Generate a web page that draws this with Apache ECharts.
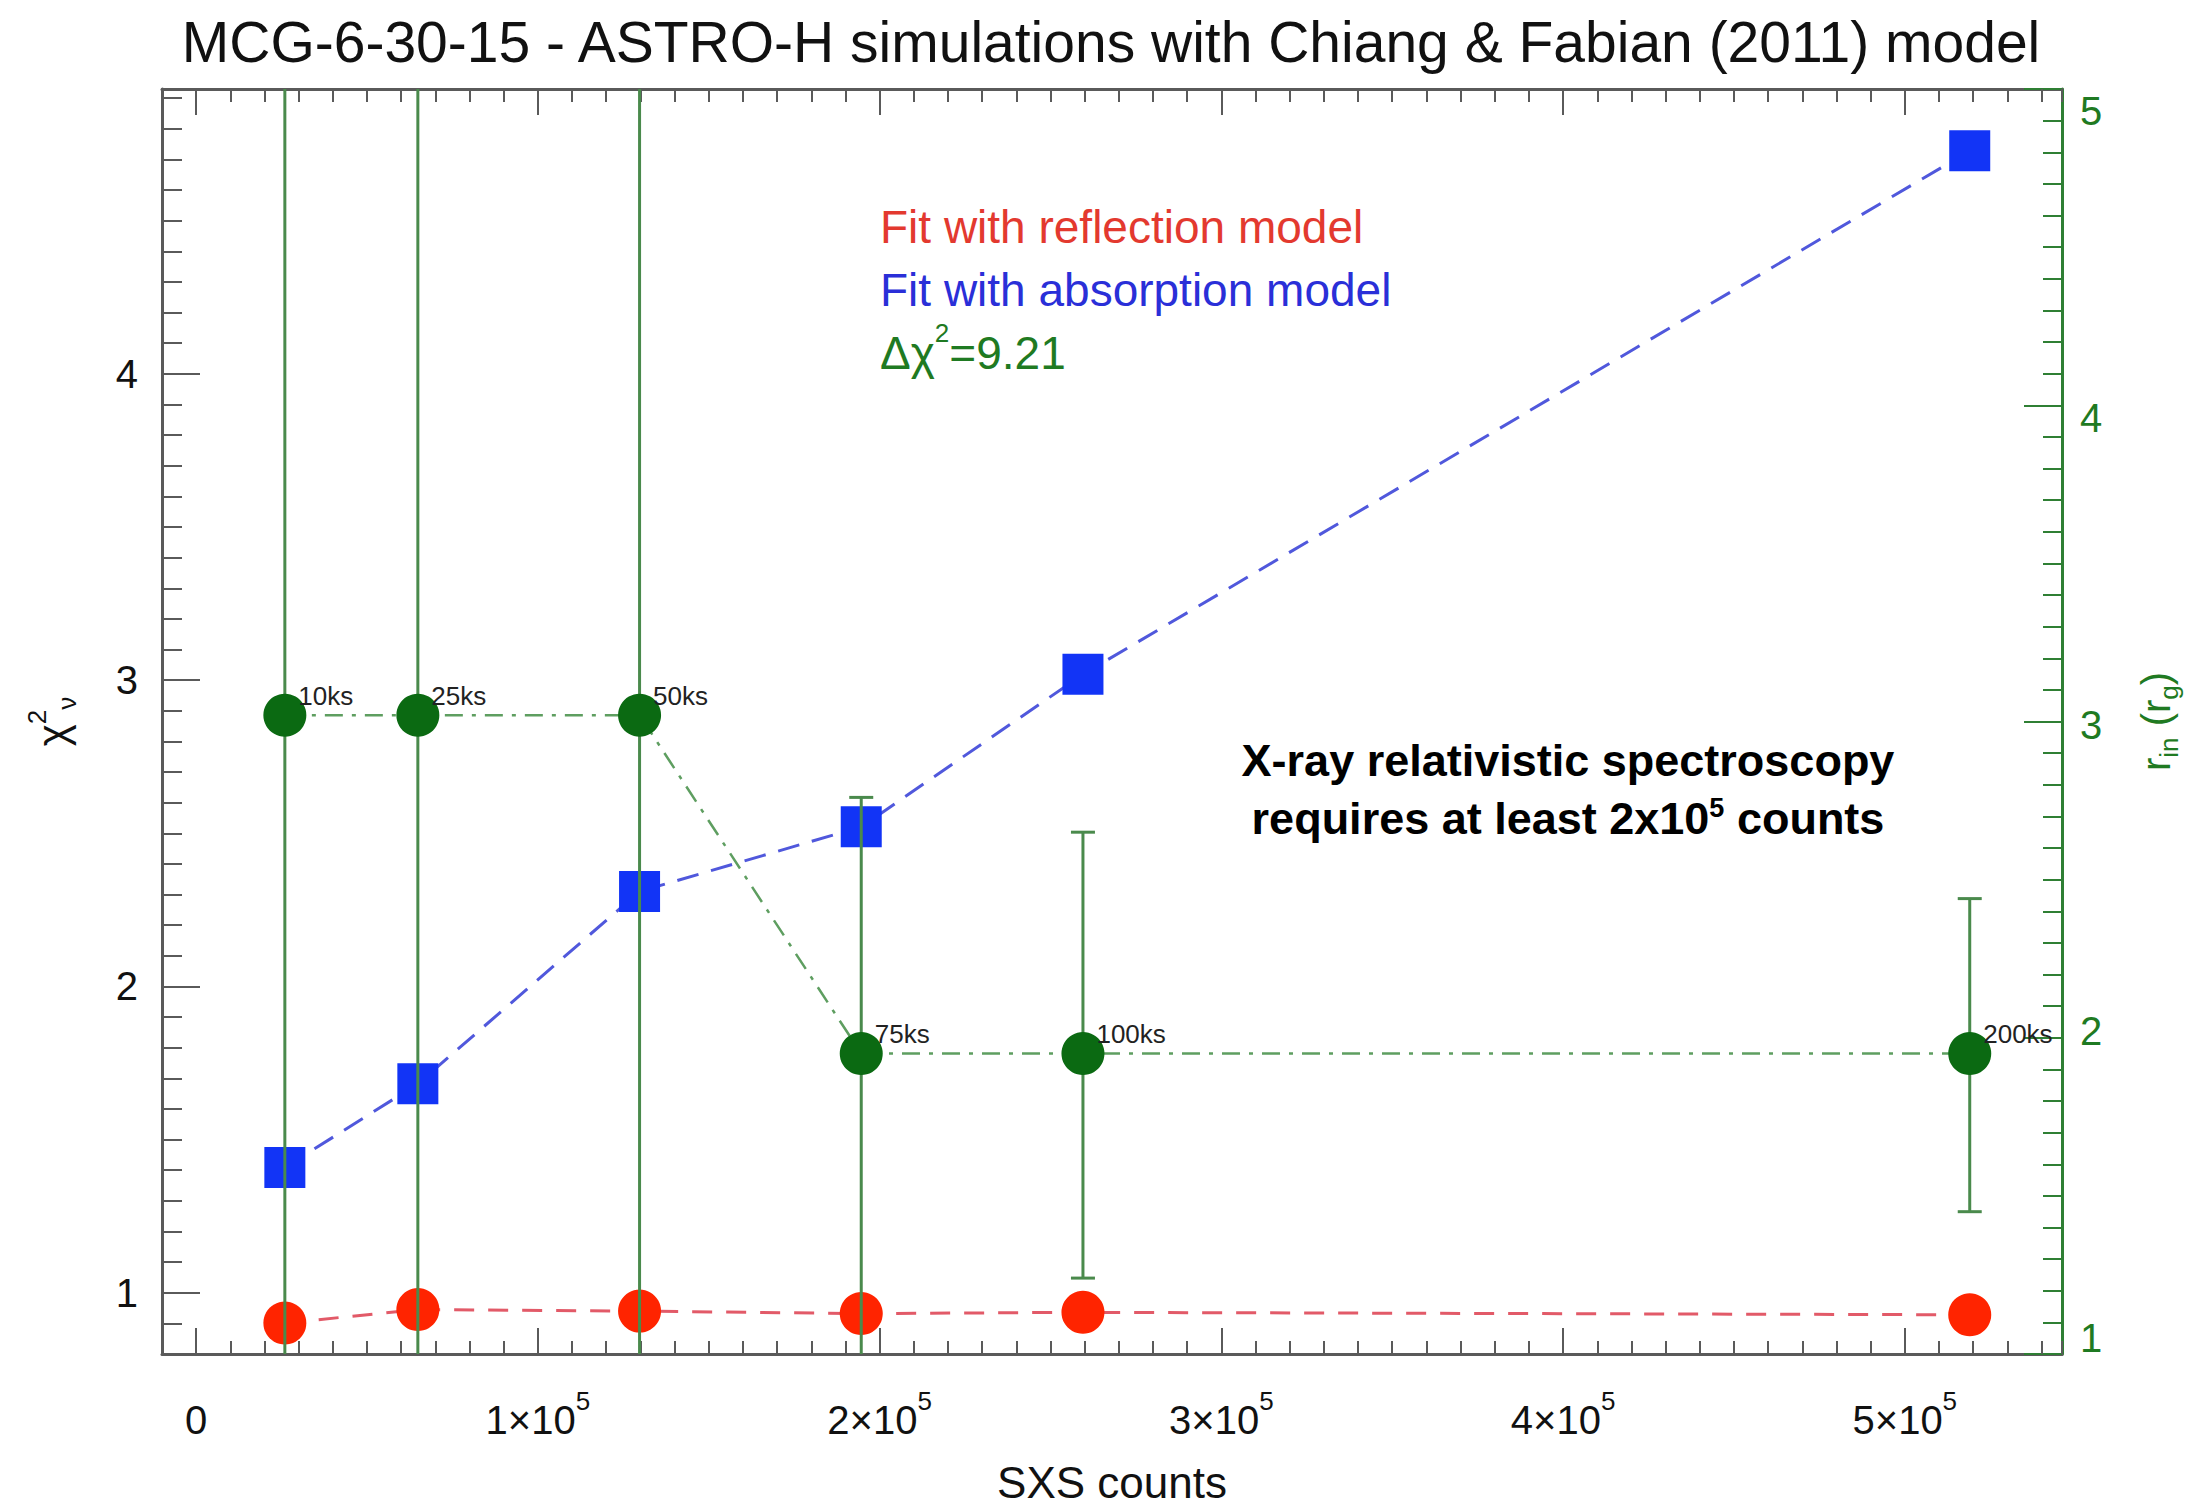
<!DOCTYPE html>
<html>
<head>
<meta charset="utf-8">
<script src="https://cdn.jsdelivr.net/npm/echarts@6/dist/echarts.min.js"></script>
<style>
html,body{margin:0;padding:0;background:#fff;}
#chart{width:2185px;height:1507px;}
</style>
</head>
<body>
<div id="chart"></div>
<script>
// ---------------- data ----------------
const ksLabels = ['10ks', '25ks', '50ks', '75ks', '100ks', '200ks'];
const sxsCounts = [25950, 64870, 129750, 194620, 259500, 519000];
const chiReflection = [0.901, 0.945, 0.940, 0.932, 0.936, 0.928];
const chiAbsorption = [1.409, 1.682, 2.310, 2.521, 3.019, 4.728];
const rIn = [3.02, 3.02, 3.02, 1.95, 1.95, 1.95];
// error bars of r_in (first bars run beyond the plotted range)
const rInLow = [0.5, 0.5, 0.5, 0.5, 1.24, 1.45];
const rInHigh = [5.5, 5.5, 5.5, 2.76, 2.65, 2.44];

const xTickValues = [0, 100000, 200000, 300000, 400000, 500000];
const xTickMantissa = ['0', '1', '2', '3', '4', '5'];
const xTickExponent = ['', '5', '5', '5', '5', '5'];
const yLeftTicks = [1, 2, 3, 4];
const yRightTicks = [1, 2, 3, 4, 5];

// ---------------- style ----------------
const F = 'Liberation Sans';
const GRAY = '#5a5a5a';
const GREEN_AX = '#2f7f34';
const GREEN_TXT = '#1f7a22';

const xMin = -10000, xMax = 546000;
const yLMin = 0.8, yLMax = 4.93;

function xLabel(v) {
  const i = xTickValues.indexOf(v);
  if (i < 0) return '';
  if (!xTickExponent[i]) return '{n|' + xTickMantissa[i] + '}';
  return '{n|' + xTickMantissa[i] + '×10}{s|' + xTickExponent[i] + '}';
}

const chart = echarts.init(document.getElementById('chart'), null, {renderer: 'svg'});

const baseX = {type: 'value', min: xMin, max: xMax, splitLine: {show: false}};

const option = {
  animation: false,
  backgroundColor: '#ffffff',
  grid: {left: 162, right: 123, top: 89, bottom: 153, containLabel: false, outerBoundsMode: 'none'},
  xAxis: [
    Object.assign({}, baseX, {
      position: 'bottom',
      axisLine: {show: true, onZero: false, lineStyle: {color: GRAY, width: 3}},
      axisTick: {show: true, inside: true, length: 26, customValues: xTickValues, lineStyle: {color: GRAY, width: 2}},
      axisLabel: {
        show: true, customValues: xTickValues, margin: 34, formatter: xLabel,
        rich: {
          n: {fontSize: 40, fontFamily: F, color: '#111', lineHeight: 52, verticalAlign: 'bottom'},
          s: {fontSize: 26, fontFamily: F, color: '#111', lineHeight: 52, verticalAlign: 'top'}
        }
      },
      name: 'SXS counts', nameLocation: 'middle', nameGap: 105,
      nameTextStyle: {fontSize: 44, lineHeight: 46, fontFamily: F, color: '#111'}
    }),
    Object.assign({}, baseX, {
      position: 'bottom', interval: 10000,
      axisLine: {show: false},
      axisTick: {show: true, inside: true, length: 13, lineStyle: {color: GRAY, width: 2}},
      axisLabel: {show: false}
    }),
    Object.assign({}, baseX, {
      position: 'top',
      axisLine: {show: true, onZero: false, lineStyle: {color: GRAY, width: 3}},
      axisTick: {show: true, inside: true, length: 26, customValues: xTickValues, lineStyle: {color: GRAY, width: 2}},
      axisLabel: {show: false}
    }),
    Object.assign({}, baseX, {
      position: 'top', interval: 10000,
      axisLine: {show: false},
      axisTick: {show: true, inside: true, length: 13, lineStyle: {color: GRAY, width: 2}},
      axisLabel: {show: false}
    })
  ],
  yAxis: [
    { // 0: left chi2 axis
      type: 'value', position: 'left', min: yLMin, max: yLMax, splitLine: {show: false},
      axisLine: {show: true, onZero: false, lineStyle: {color: GRAY, width: 3}},
      axisTick: {show: true, inside: true, length: 38, customValues: yLeftTicks, lineStyle: {color: GRAY, width: 2}},
      axisLabel: {show: true, customValues: yLeftTicks, margin: 24, fontSize: 40, fontFamily: F, color: '#111'},
      name: '{c|χ}{s|2}{v|ν}', nameLocation: 'middle', nameGap: 82, nameRotate: 90,
      nameTextStyle: {
        rich: {
          c: {fontSize: 42, fontFamily: F, color: '#111', lineHeight: 56, verticalAlign: 'middle'},
          s: {fontSize: 26, fontFamily: F, color: '#111', lineHeight: 56, verticalAlign: 'top'},
          v: {fontSize: 26, fontFamily: F, color: '#111', lineHeight: 56, verticalAlign: 'bottom'}
        }
      }
    },
    { // 1: right r_in axis (major ticks)
      type: 'value', position: 'right', min: 1, max: 5, interval: 1, splitLine: {show: false},
      axisLine: {show: true, onZero: false, lineStyle: {color: GREEN_AX, width: 3}},
      axisTick: {show: true, inside: true, length: 38, lineStyle: {color: GREEN_AX, width: 2}},
      axisLabel: {show: false},
      name: '{r|r}{b|in}{r| (r}{b|g}{r|)}', nameLocation: 'middle', nameGap: 68, nameRotate: 90,
      nameTextStyle: {
        rich: {
          r: {fontSize: 40, fontFamily: F, color: GREEN_TXT, lineHeight: 52, verticalAlign: 'middle'},
          b: {fontSize: 26, fontFamily: F, color: GREEN_TXT, lineHeight: 52, verticalAlign: 'bottom'}
        }
      }
    },
    { // 2: left minor ticks
      type: 'value', position: 'left', min: yLMin, max: yLMax, interval: 0.1, splitLine: {show: false},
      axisLine: {show: false, onZero: false},
      axisTick: {show: true, inside: true, length: 20, lineStyle: {color: GRAY, width: 2}},
      axisLabel: {show: false}
    },
    { // 3: right labels
      type: 'value', position: 'right', min: 0.947, max: 5.073, splitLine: {show: false},
      axisLine: {show: false, onZero: false},
      axisTick: {show: false},
      axisLabel: {show: true, customValues: yRightTicks, margin: 18, fontSize: 40, fontFamily: F, color: GREEN_TXT}
    },
    { // 4: right minor ticks
      type: 'value', position: 'right', min: 1, max: 5, interval: 0.1, splitLine: {show: false},
      axisLine: {show: false, onZero: false},
      axisTick: {show: true, inside: true, length: 19, lineStyle: {color: GREEN_AX, width: 2}},
      axisLabel: {show: false}
    }
  ],
  series: [
    {
      name: 'reflection', type: 'line', xAxisIndex: 0, yAxisIndex: 0,
      data: sxsCounts.map((x, i) => [x, chiReflection[i]]),
      symbol: 'circle', symbolSize: 43,
      itemStyle: {color: '#ff2400'},
      lineStyle: {color: '#e25a68', width: 3, type: [20, 14]},
      z: 2
    },
    {
      name: 'absorption', type: 'line', xAxisIndex: 0, yAxisIndex: 0,
      data: sxsCounts.map((x, i) => [x, chiAbsorption[i]]),
      symbol: 'rect', symbolSize: 41,
      itemStyle: {color: '#1234f6'},
      lineStyle: {color: '#5058dc', width: 3, type: [22, 13]},
      z: 2
    },
    {
      name: 'rin errors', type: 'custom', xAxisIndex: 0, yAxisIndex: 1,
      data: sxsCounts.map((x, i) => [x, rInLow[i], rInHigh[i]]),
      encode: {x: 0, y: [1, 2]},
      z: 3,
      renderItem: function (params, api) {
        const x = api.value(0), lo = api.value(1), hi = api.value(2);
        const pLo = api.coord([x, lo]);
        const pHi = api.coord([x, hi]);
        const cs = params.coordSys;
        const top = cs.y, bottom = cs.y + cs.height;
        const yTop = Math.max(pHi[1], top);
        const yBot = Math.min(pLo[1], bottom);
        const st = {stroke: '#4a8a4c', lineWidth: 3};
        const kids = [{type: 'line', shape: {x1: pLo[0], y1: yTop, x2: pLo[0], y2: yBot}, style: st}];
        const cap = 12;
        if (pHi[1] >= top) kids.push({type: 'line', shape: {x1: pHi[0] - cap, y1: pHi[1], x2: pHi[0] + cap, y2: pHi[1]}, style: st});
        if (pLo[1] <= bottom) kids.push({type: 'line', shape: {x1: pLo[0] - cap, y1: pLo[1], x2: pLo[0] + cap, y2: pLo[1]}, style: st});
        return {type: 'group', children: kids};
      }
    },
    {
      name: 'rin', type: 'line', xAxisIndex: 0, yAxisIndex: 1,
      data: sxsCounts.map((x, i) => [x, rIn[i]]),
      symbol: 'circle', symbolSize: 43,
      itemStyle: {color: '#0b6a12'},
      lineStyle: {color: '#5e9e60', width: 2.5, type: [18, 9, 4, 9]},
      z: 4,
      label: {
        show: true, position: [35, 2], align: 'left', verticalAlign: 'middle',
        formatter: (p) => ksLabels[p.dataIndex],
        fontSize: 26, fontFamily: F, color: '#222'
      }
    }
  ],
  graphic: [
    {type: 'text', x: 1111, y: 42, style: {text: 'MCG-6-30-15 - ASTRO-H simulations with Chiang & Fabian (2011) model', fontSize: 57, fontFamily: F, fill: '#111', align: 'center', verticalAlign: 'middle'}},
    {type: 'text', x: 880, y: 227, style: {text: 'Fit with reflection model', fontSize: 46, fontFamily: F, fill: '#e3392f', align: 'left', verticalAlign: 'middle'}},
    {type: 'text', x: 880, y: 290, style: {text: 'Fit with absorption model', fontSize: 46, fontFamily: F, fill: '#2a2fd8', align: 'left', verticalAlign: 'middle'}},
    {type: 'text', x: 880, y: 348, style: {
      text: '{a|Δχ}{s|2}{a|=9.21}', align: 'left', verticalAlign: 'middle',
      rich: {
        a: {fontSize: 46, fontFamily: F, fill: GREEN_TXT, color: GREEN_TXT, lineHeight: 56, verticalAlign: 'bottom'},
        s: {fontSize: 26, fontFamily: F, fill: GREEN_TXT, color: GREEN_TXT, lineHeight: 56, verticalAlign: 'top'}
      }
    }},
    {type: 'text', x: 1568, y: 789, style: {
      text: '{b|X-ray relativistic spectroscopy}\n{b|requires at least 2x10}{bs|5}{b| counts}',
      align: 'center', verticalAlign: 'middle',
      rich: {
        b: {fontSize: 45, fontFamily: F, fontWeight: 'bold', fill: '#000', color: '#000', lineHeight: 58, verticalAlign: 'middle'},
        bs: {fontSize: 27, fontFamily: F, fontWeight: 'bold', fill: '#000', color: '#000', lineHeight: 27, verticalAlign: 'middle', padding: [0, 0, 20, 0]}
      }
    }}
  ]
};

chart.setOption(option);
</script>
</body>
</html>
